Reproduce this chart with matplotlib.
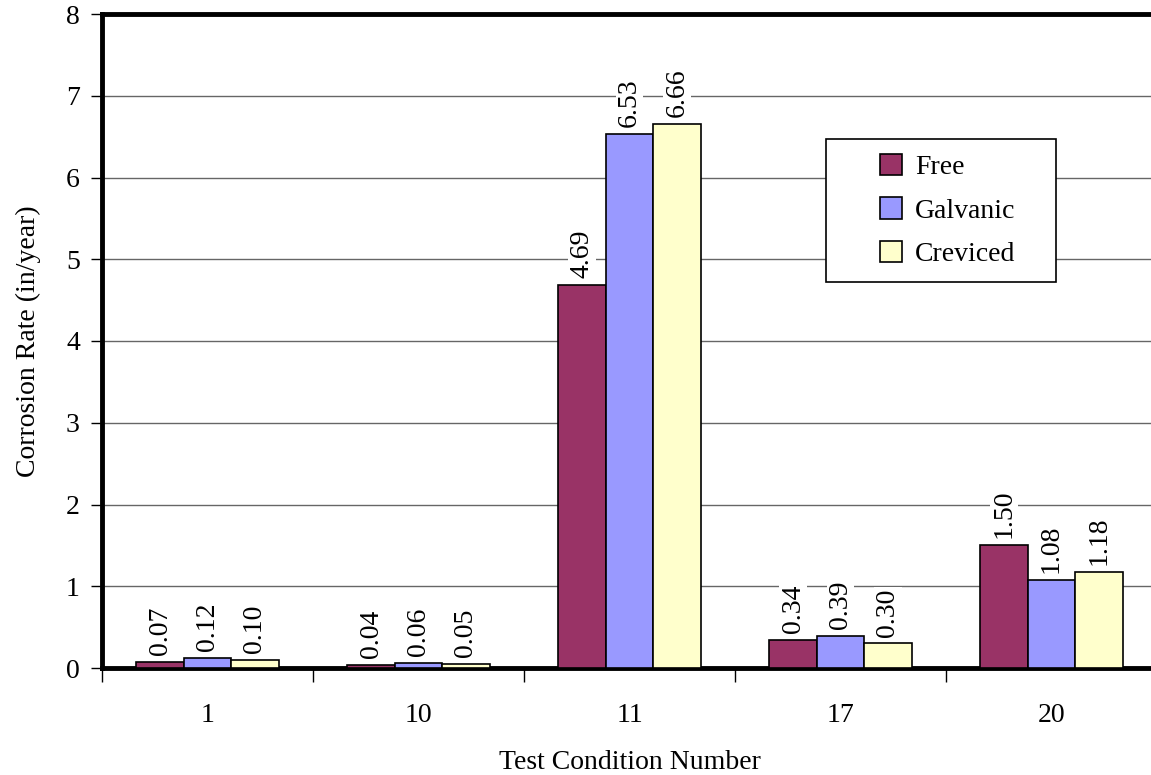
import numpy as np
import matplotlib
matplotlib.use("Agg")
import matplotlib.pyplot as plt
from matplotlib.patches import Rectangle

plt.rcParams["font.family"] = ["Liberation Serif", "DejaVu Serif"]

conditions = ["1", "10", "11", "17", "20"]
free = [0.07, 0.04, 4.69, 0.34, 1.50]
galvanic = [0.12, 0.06, 6.53, 0.39, 1.08]
creviced = [0.10, 0.05, 6.66, 0.30, 1.18]

SERIES = [
    ("Free", free, "#993366"),
    ("Galvanic", galvanic, "#9999FF"),
    ("Creviced", creviced, "#FFFFCC"),
]
FS = 20

fig = plt.figure(figsize=(11.51, 7.75), dpi=100)
# right edge of the plot runs slightly past the figure, as in the source
ax = fig.add_axes([102 / 1151, 1 - 668 / 775, 1055 / 1151, 654 / 775])

x = np.arange(len(conditions))
width = 0.225
for i, (label, vals, color) in enumerate(SERIES):
    pos = x + (i - 1) * width
    ax.bar(pos, vals, width, color=color, edgecolor="black", linewidth=1.2,
           label=label, zorder=3)
    for p, v in zip(pos, vals):
        ax.annotate(f"{v:.2f}", (p, v), xytext=(0, 5), textcoords="offset points",
                    rotation=90, ha="center", va="bottom", fontsize=FS, zorder=4,
                    family=["Liberation Serif", "DejaVu Serif"],
                    bbox=dict(facecolor="white", edgecolor="none", pad=1))

ax.set_xlim(-0.5, len(conditions) - 0.5)
ax.set_ylim(0, 8)
ax.set_yticks(range(0, 9))
ax.set_xticks(x)
ax.set_xticklabels(conditions)
ax.set_xticks(np.arange(-0.5, len(conditions)), minor=True)
ax.tick_params(axis="x", which="major", length=0, pad=25, labelsize=FS)
ax.tick_params(axis="x", which="minor", length=10, width=1, direction="out")
ax.tick_params(axis="y", length=8, width=1, direction="out", labelsize=FS, pad=8)
ax.grid(axis="y", color="#666666", linewidth=1, zorder=0)

for side in ("left", "bottom", "top"):
    ax.spines[side].set_linewidth(3.5)
ax.spines["right"].set_visible(False)

ax.set_xlabel("Test Condition Number", fontsize=FS, labelpad=16)
ax.set_ylabel("Corrosion Rate (in/year)", fontsize=FS, labelpad=18)

# legend box drawn separately to get the wide inner padding of the source
bx0, by0 = (826 - 102) / 1055, 1 - (282 - 14) / 654
bw, bh = (1056 - 826) / 1055, (282 - 139) / 654
ax.add_patch(Rectangle((bx0, by0), bw, bh, transform=ax.transAxes,
                       facecolor="white", edgecolor="black", linewidth=1.2, zorder=5))
leg = ax.legend(loc="center left", bbox_to_anchor=((880 - 102) / 1055, by0 + bh / 2),
                fontsize=FS, frameon=False, labelspacing=0.62, handlelength=0.8,
                handleheight=0.8, handletextpad=0.45, borderaxespad=0, borderpad=0)
leg.set_zorder(6)

fig.savefig("out.png", dpi=100)
